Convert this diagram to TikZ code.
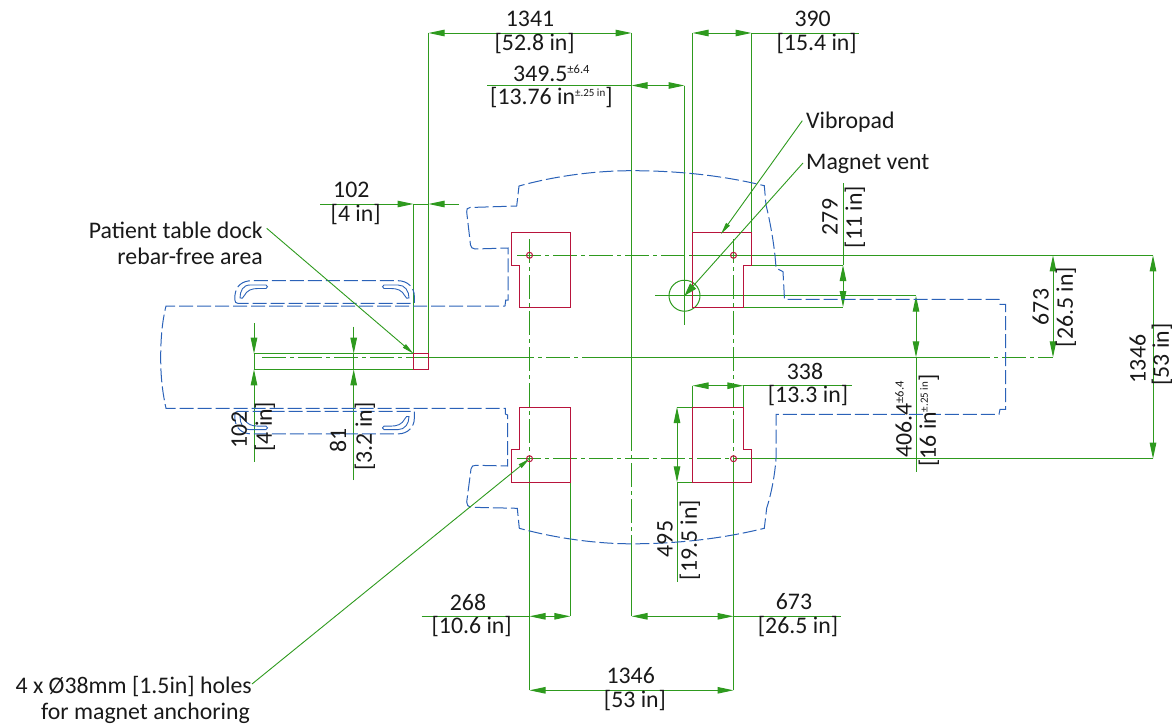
\documentclass[tikz,border=0pt]{standalone}
\usepackage{fontspec}
\setmainfont{Carlito}
\usetikzlibrary{arrows.meta}
\definecolor{dimg}{RGB}{46,154,30}
\definecolor{outl}{RGB}{43,98,184}
\definecolor{redl}{RGB}{184,20,60}
\newcommand{\supt}[1]{\raisebox{8pt}{\fontsize{12.5}{12.5}\selectfont #1}}
\newcommand{\suptb}[1]{\raisebox{8pt}{\fontsize{11}{11}\selectfont #1}}
\tikzset{
  dimline/.style={color=dimg,line width=1pt},
  dimtip/.style={dimline,-{Triangle[length=16pt,width=6.5pt,fill=dimg]}},
  dimboth/.style={dimline,{Triangle[length=16pt,width=6.5pt,fill=dimg]}-{Triangle[length=16pt,width=6.5pt,fill=dimg]}},
  centerl/.style={color=dimg,line width=1pt,dash pattern=on 24pt off 4pt on 4pt off 4pt},
  leader/.style={color=dimg,line width=0.9pt,-{Triangle[length=12pt,width=4.5pt,fill=dimg]}},
  leaderbig/.style={color=dimg,line width=0.9pt,-{Triangle[length=13pt,width=8pt,fill=dimg]}},
  redbox/.style={draw=redl,line width=1pt},
  blued/.style={draw=outl,line width=1pt,dash pattern=on 14pt off 4pt},
  bluefine/.style={draw=outl,line width=0.9pt},
  lbl/.style={font=\fontsize{23.8}{23.8}\selectfont,inner sep=0pt,text=black!90},
}
\begin{document}
\begin{tikzpicture}[x=1pt,y=-1pt]
\useasboundingbox (0,0) rectangle (1173,726);
% centre lines
\draw[centerl] (517,255.3) -- (690,255.3);
\draw[dimline] (690,255.3) -- (1153,255.3);
\draw[centerl] (517,458.7) -- (737,458.7);
\draw[dimline] (737,458.7) -- (1153,458.7);
\draw[centerl] (262,357.3) -- (428.5,357.3);
\draw[dimline] (428.5,357.3) -- (510,357.3);
\draw[centerl] (510,357.3) -- (600,357.3);
\draw[dimline] (600,357.3) -- (966,357.3);
\draw[centerl] (966,357.3) -- (1053,357.3);
\draw[centerl] (529.5,239) -- (529.5,458.7);
\draw[dimline] (529.5,458.7) -- (529.5,690.3);
\draw[centerl] (733.5,239) -- (733.5,458.7);
\draw[dimline] (733.5,458.7) -- (733.5,690.3);
\draw[dimline] (631.5,33) -- (631.5,427);
\draw[centerl] (631.5,427) -- (631.5,545);
\draw[dimline] (631.5,545) -- (631.5,616.3);
% extension lines
\draw[dimline] (428.5,33) -- (428.5,369.3);
\draw[dimline] (413.5,204) -- (413.5,353.7);
\draw[dimline] (692.5,33) -- (692.5,232.3);
\draw[dimline] (751.5,33) -- (751.5,232.3);
\draw[dimline] (684.5,85.5) -- (684.5,325);
\draw[dimline] (655,295.7) -- (916,295.7);
\draw[dimline] (751.5,265) -- (843,265);
\draw[dimline] (743.4,307) -- (843,307);
\draw[dimline] (254,353.7) -- (413.5,353.7);
\draw[dimline] (254,369.3) -- (413.5,369.3);
\draw[dimline] (692.5,385.7) -- (692.5,407.3);
\draw[dimline] (743.4,385.7) -- (743.4,407.3);
\draw[dimline] (677,407) -- (692.5,407);
\draw[dimline] (677,482.3) -- (692.5,482.3);
\draw[dimline] (570.3,482.3) -- (570.3,616.3);
\draw[dimline] (684.5,295.7) circle (15.5);
% dimension lines
\draw[dimboth] (428.5,33) -- (631.5,33);
\draw[dimboth] (692.5,33) -- (751.5,33);
\draw[dimline] (751.5,33) -- (859,33);
\draw[dimboth] (631.5,85.5) -- (684.5,85.5);
\draw[dimline] (487,85.5) -- (631.5,85.5);
\draw[dimtip] (320,204) -- (413.5,204);
\draw[dimtip] (459,204) -- (428.5,204);
\draw[dimline] (413.5,204) -- (428.5,204);
\draw[dimtip] (254,323) -- (254,353.7);
\draw[dimtip] (254,461.7) -- (254,369.3);
\draw[dimline] (254,353.7) -- (254,369.3);
\draw[dimtip] (353.7,326.7) -- (353.7,353.7);
\draw[dimtip] (353.7,480) -- (353.7,369.3);
\draw[dimline] (353.7,353.7) -- (353.7,369.3);
\draw[dimboth] (843,265) -- (843,307);
\draw[dimline] (843,183) -- (843,265);
\draw[dimboth] (916,295.7) -- (916,357.3);
\draw[dimline] (916,357.3) -- (916,471.7);
\draw[dimboth] (1053,255.3) -- (1053,357.3);
\draw[dimboth] (1153,255.3) -- (1153,458.7);
\draw[dimboth] (692.5,385.7) -- (743.4,385.7);
\draw[dimline] (743.4,385.7) -- (851.6,385.7);
\draw[dimboth] (677,407) -- (677,482.3);
\draw[dimline] (677,482.3) -- (677,581.7);
\draw[dimboth] (529.5,616.3) -- (570.3,616.3);
\draw[dimline] (421.7,616.3) -- (529.5,616.3);
\draw[dimboth] (631.5,616.3) -- (733.5,616.3);
\draw[dimline] (733.5,616.3) -- (840.7,616.3);
\draw[dimboth] (529.5,690.3) -- (733.5,690.3);
% red plates
\draw[redbox] (511.3,232.3) -- (570.3,232.3) -- (570.3,307) -- (519,307) -- (519,265) -- (511.3,265) -- cycle;
\draw[redbox] (692.5,232.3) -- (751.5,232.3) -- (751.5,265) -- (743.4,265) -- (743.4,307) -- (692.5,307) -- cycle;
\draw[redbox] (519,407.3) -- (570.3,407.3) -- (570.3,482.3) -- (511.3,482.3) -- (511.3,449.3) -- (519,449.3) -- cycle;
\draw[redbox] (692.5,407.3) -- (743.4,407.3) -- (743.4,449.3) -- (751.5,449.3) -- (751.5,482.3) -- (692.5,482.3) -- cycle;
\draw[redbox] (413.5,353.7) rectangle (428.5,369.3);
\draw[redbox] (529.5,255.3) circle (3);
\draw[redbox] (733.5,255.3) circle (3);
\draw[redbox] (529.5,458.7) circle (3);
\draw[redbox] (733.5,458.7) circle (3);
% outline
\draw[blued] (505,306) -- (505.7,300) -- (508,300) -- (508,248) -- (475,249)
  .. controls (472,249) and (471,247) .. (470.5,245) -- (466.7,212)
  .. controls (466.5,209) and (467,208) .. (470,207.5) -- (516.7,206) -- (519,186)
  .. controls (555,176) and (595,170.7) .. (632,170.7)
  .. controls (680,170.7) and (725,176) .. (764.3,185.7) -- (766,205)
  .. controls (771,225) and (775,250) .. (776,268) -- (783,271.7) -- (784.5,299.3)
  -- (999,299.3) -- (1000,304.3) -- (1005.6,304.3) -- (1005.6,409.3) -- (1000,409.3) -- (999,414.3)
  -- (776,414.3) -- (776,458)
  .. controls (775,475) and (771,495) .. (766.7,508) -- (764.3,528.3)
  .. controls (725,538) and (680,543.8) .. (632,543.8)
  .. controls (595,543.8) and (555,538) .. (519.3,528.3) -- (517.3,508.3) -- (471.7,507.3)
  .. controls (468,506.5) and (466.5,505) .. (466.7,502) -- (471,469)
  .. controls (471.5,466) and (473,465.3) .. (476,465.3) -- (507.7,466) -- (507.7,415) -- (505.3,414) -- (505.3,408.3)
  -- (166,408.3)
  .. controls (162,390) and (160.7,375) .. (160.7,357.3)
  .. controls (160.7,340) and (162,322) .. (166,306) -- cycle;
% table handles
\draw[blued] (237.5,303.3) .. controls (234,303) and (235,298) .. (235,295)
  .. controls (236,286) and (242,280.7) .. (252,280.7) -- (398,280.7)
  .. controls (408,280.7) and (414.3,288) .. (414.3,296) -- (414.3,303.3) -- cycle;
\draw[bluefine] (266,285) -- (250,285) .. controls (243,285) and (240,291) .. (240,298)
  .. controls (242,299) and (243,298) .. (244,296)
  .. controls (247,290) and (252,288.5) .. (258,288.5) -- (266,288.5)
  .. controls (268,288.5) and (268,285) .. (266,285) -- cycle;
\draw[bluefine] (384,285) -- (398,285) .. controls (405,285) and (409,291) .. (409,298)
  .. controls (407,299) and (406,298) .. (405,296)
  .. controls (402,290) and (397,288.5) .. (391,288.5) -- (384,288.5)
  .. controls (382,288.5) and (382,285) .. (384,285) -- cycle;
\begin{scope}[shift={(0,714.6)},yscale=-1]
\draw[blued] (237.5,303.3) .. controls (234,303) and (235,298) .. (235,295)
  .. controls (236,286) and (242,280.7) .. (252,280.7) -- (398,280.7)
  .. controls (408,280.7) and (414.3,288) .. (414.3,296) -- (414.3,303.3) -- cycle;
\draw[bluefine] (266,285) -- (250,285) .. controls (243,285) and (240,291) .. (240,298)
  .. controls (242,299) and (243,298) .. (244,296)
  .. controls (247,290) and (252,288.5) .. (258,288.5) -- (266,288.5)
  .. controls (268,288.5) and (268,285) .. (266,285) -- cycle;
\draw[bluefine] (384,285) -- (398,285) .. controls (405,285) and (409,291) .. (409,298)
  .. controls (407,299) and (406,298) .. (405,296)
  .. controls (402,290) and (397,288.5) .. (391,288.5) -- (384,288.5)
  .. controls (382,288.5) and (382,285) .. (384,285) -- cycle;
\end{scope}
% labels
\node[lbl] (a1) at (530,18.5) {1341};
\node[lbl] (a2) at (534.7,43.5) {[52.8 in]};
\node[lbl] (b1) at (812.7,18.5) {390};
\node[lbl] (b2) at (816.7,43.5) {[15.4 in]};
\node[lbl,anchor=west] (c1) at (513,73.5) {349.5\supt{±6.4}};
\node[lbl,anchor=west] (c2) at (490,98) {[13.76 in\suptb{±.25 in}]};
\node[lbl] (d1) at (351.3,190) {102};
\node[lbl] (d2) at (355.7,215) {[4 in]};
\node[lbl,anchor=east] (p1) at (263,230) {Patient table dock};
\node[lbl,anchor=east] (p2) at (263,256) {rebar-free area};
\node[lbl,anchor=west] (v1) at (806,122) {Vibropad};
\node[lbl,anchor=west] (m1) at (806,163.5) {Magnet vent};
\node[lbl,anchor=east] (h1) at (252,687) {4 x Ø38mm [1.5in] holes};
\node[lbl,anchor=east] (h2) at (250,713) {for magnet anchoring};
\node[lbl,rotate=90] (e1) at (239.3,430) {102};
\node[lbl,rotate=90] (e2) at (265,426.7) {[4 in]};
\node[lbl,rotate=90] (f1) at (338,440) {81};
\node[lbl,rotate=90] (f2) at (365,436.7) {[3.2 in]};
\node[lbl,rotate=90] (g1) at (830,217) {279};
\node[lbl,rotate=90] (g2) at (855,217) {[11 in]};
\node[lbl,rotate=90,anchor=west] (i1) at (903.6,458) {406.4\supt{±6.4}};
\node[lbl,rotate=90,anchor=west] (i2) at (929,467) {[16 in\suptb{±.25 in}]};
\node[lbl,rotate=90] (j1) at (1040.7,307) {673};
\node[lbl,rotate=90] (j2) at (1066,307) {[26.5 in]};
\node[lbl,rotate=90] (k1) at (1137.6,359) {1346};
\node[lbl,rotate=90] (k2) at (1162,354.5) {[53 in]};
\node[lbl] (l1) at (805,371) {338};
\node[lbl] (l2) at (808,396) {[13.3 in]};
\node[lbl,rotate=90] (n1) at (665,539) {495};
\node[lbl,rotate=90] (n2) at (690,540) {[19.5 in]};
\node[lbl] (q1) at (468,602) {268};
\node[lbl] (q2) at (471.7,627) {[10.6 in]};
\node[lbl] (r1) at (794,602) {673};
\node[lbl] (r2) at (798,627) {[26.5 in]};
\node[lbl] (s1) at (630.7,676) {1346};
\node[lbl] (s2) at (635,701) {[53 in]};
% leaders
\coordinate (pl1) at (266.7,228.3);
\coordinate (pl2) at (413.5,353.7);
\coordinate (vl1) at (802.3,120.7);
\coordinate (vl2) at (721,234);
\coordinate (ml1) at (803,163);
\coordinate (ml2) at (684.5,295.7);
\coordinate (hl1) at (252,684);
\coordinate (hl2) at (529.5,458.7);
\draw[leader] (pl1) -- (pl2);
\draw[leader] (vl1) -- (vl2);
\draw[leaderbig] (ml1) -- (ml2);
\draw[leader] (hl1) -- (hl2);
\end{tikzpicture}
\end{document}
